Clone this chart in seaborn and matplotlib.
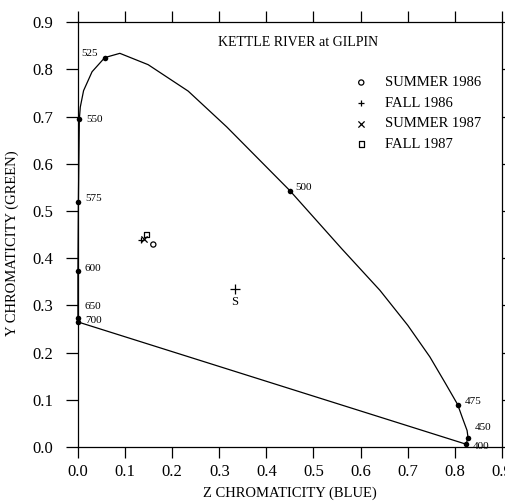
import matplotlib
matplotlib.use("Agg")
import matplotlib.pyplot as plt
import seaborn as sns
import pandas as pd

# spectrum locus, Z chromaticity (blue) against Y chromaticity (green)
locus_z = [0.824, 0.828, 0.826, 0.816, 0.806, 0.780, 0.747, 0.700, 0.641, 0.560, 0.450,
           0.316, 0.234, 0.149, 0.089, 0.057, 0.030, 0.012, 0.005, 0.003, 0.001,
           0.000, 0.000, 0.000]
locus_y = [0.006, 0.020, 0.035, 0.062, 0.090, 0.135, 0.191, 0.258, 0.332, 0.420, 0.543,
           0.678, 0.754, 0.810, 0.834, 0.825, 0.795, 0.755, 0.720, 0.694, 0.520,
           0.373, 0.274, 0.265]

# labelled wavelengths (nm) on the locus
wave_labels = ["400", "450", "475", "500", "525", "550", "575", "600", "650", "700"]
wave_z = [0.824, 0.828, 0.806, 0.450, 0.057, 0.003, 0.001, 0.000, 0.000, 0.000]
wave_y = [0.006, 0.020, 0.090, 0.543, 0.825, 0.694, 0.520, 0.373, 0.274, 0.265]

# line of purples
purple_z = [0.000, 0.824]
purple_y = [0.265, 0.006]

# river samples
seasons = ["SUMMER 1986", "FALL 1986", "SUMMER 1987", "FALL 1987"]
sample_z = [0.160, 0.134, 0.140, 0.146]
sample_y = [0.429, 0.439, 0.440, 0.451]

# equal energy white point
white_z = [0.333]
white_y = [0.334]

ticks = [0.0, 0.1, 0.2, 0.3, 0.4, 0.5, 0.6, 0.7, 0.8, 0.9]

sns.set_style("ticks", {"axes.edgecolor": "black", "xtick.color": "black",
                        "ytick.color": "black", "text.color": "black",
                        "axes.labelcolor": "black"})
plt.rcParams['font.family'] = ['Liberation Serif', 'DejaVu Serif']

fig = plt.figure(figsize=(5.06, 5.04), dpi=100)
ax = fig.add_axes([0.154, 0.113, 0.838, 0.843])

locus = pd.DataFrame({"z": locus_z, "y": locus_y})
sns.lineplot(data=locus, x="z", y="y", sort=False, estimator=None, color="black",
             linewidth=0.9, ax=ax, clip_on=False)
sns.lineplot(x=purple_z, y=purple_y, sort=False, estimator=None, color="black",
             linewidth=0.9, ax=ax, clip_on=False)
sns.scatterplot(x=wave_z, y=wave_y, color="black", s=16, linewidth=0, ax=ax,
                clip_on=False, zorder=5)

# label placement in points
offsets = [(5, -2), (5, 7), (5, 2), (4, 2), (-5, 3), (5, 0), (5, 2), (5, 2), (5, 8), (5, 1)]
for lab, zz, yy, off in zip(wave_labels, wave_z, wave_y, offsets):
    ax.annotate(lab, (zz, yy), xytext=off, textcoords="offset points",
                ha="right" if off[0] < 0 else "left", va="center", fontsize=8)

markers = ["o", "+", "x", "s"]
for name, zz, yy, m in zip(seasons, sample_z, sample_y, markers):
    if m in ("o", "s"):
        sns.scatterplot(x=[zz], y=[yy], marker=m, s=14, facecolor="none",
                        edgecolor="black", linewidth=0.9, ax=ax, label=name)
    else:
        sns.scatterplot(x=[zz], y=[yy], marker=m, s=20, color="black",
                        linewidth=0.9, ax=ax, label=name)

sns.scatterplot(x=white_z, y=white_y, marker="+", s=60, color="black", linewidth=0.9, ax=ax)
ax.annotate("S", (white_z[0], white_y[0]), xytext=(0, -9), textcoords="offset points",
            ha="center", va="center", fontsize=9)

ax.text(0.33, 0.953, "KETTLE RIVER at GILPIN", transform=ax.transAxes, fontsize=10,
        va="center")
leg = ax.legend(loc="upper left", bbox_to_anchor=(0.651, 0.873), frameon=False, fontsize=10.5,
                borderaxespad=0, borderpad=0, handletextpad=1.1, labelspacing=0.5,
                handlelength=1.0)

ax.set_xlim(0, 0.9)
ax.set_ylim(0, 0.9)
ax.set_xticks(ticks)
ax.set_yticks(ticks)
ax.set_xticklabels([f"{t:.1f}" for t in ticks])
ax.set_yticklabels([f"{t:.1f}" for t in ticks])
ax.tick_params(direction="out", width=0.9, top=True, right=True, labelsize=12)
ax.tick_params(axis="x", length=8, pad=4)
ax.tick_params(axis="y", length=9, pad=9)
for s in ax.spines.values():
    s.set_linewidth(0.9)
    s.set_visible(True)

ax.set_xlabel("Z CHROMATICITY (BLUE)", fontsize=10.5)
ax.set_ylabel("Y CHROMATICITY (GREEN)", fontsize=10.5)
ax.xaxis.set_label_coords(0.5, -0.092)
ax.yaxis.set_label_coords(-0.14, 0.48)

fig.savefig("out.png", dpi=100)
